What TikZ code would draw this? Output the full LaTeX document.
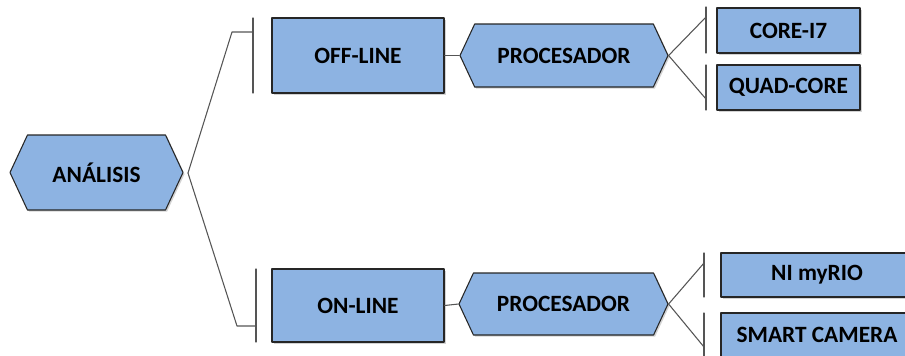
\documentclass[tikz,border=0pt]{standalone}
\usepackage{fontspec}
\setmainfont{Carlito}
\usepackage{xcolor}
\usetikzlibrary{shapes.symbols,shadows}
\definecolor{boxblue}{HTML}{8DB3E2}
\definecolor{linegray}{HTML}{555555}
\tikzset{
  box/.style={draw=black!85,line width=0.8pt,fill=boxblue,font=\bfseries\fontsize{17.5}{20}\selectfont,
    inner sep=0pt,drop shadow={shadow xshift=1.2pt,shadow yshift=-1.2pt,opacity=0.35}},
  hexa/.style={box,shape=signal,signal to=west and east,signal pointer angle=130},
  sz/.style 2 args={minimum width=#1*0.75pt,minimum height=#2*0.75pt},
  conn/.style={draw=linegray,line width=0.8pt}
}
\begin{document}
\begin{tikzpicture}[line cap=round,line join=round,x=0.75pt,y=-0.75pt]
\useasboundingbox (0,0) rectangle (905,355);
\clip (0,0) rectangle (905,355);
\node[hexa,sz={173}{75}] (ana) at (96.5,172.5) {ANÁLISIS};
\node[box,sz={172}{75}] (off) at (358,55.5) {OFF-LINE};
\node[box,sz={172}{73}] (on) at (358,305.5) {ON-LINE};
\node[hexa,sz={208}{63}] (procA) at (564,55.5) {PROCESADOR};
\node[hexa,sz={209}{62}] (procB) at (563.5,304) {PROCESADOR};
\node[box,sz={143}{45}] (i7) at (788.5,30.5) {CORE-I7};
\node[box,sz={143}{45}] (quad) at (788.5,87.5) {QUAD-CORE};
\node[box,sz={192}{44}] (myrio) at (817,275) {NI myRIO};
\node[box,sz={192}{44}] (smart) at (817,335) {SMART CAMERA};
% bracket from ANALISIS
\coordinate (apex) at (188,173);
\coordinate (barOff) at (253,32);
\coordinate (barOn) at (256,326);
\draw[conn] (apex) -- (232,32) -- (barOff);
\draw[conn] (253,18) -- (253,93);
\draw[conn] (apex) -- (237,326) -- (barOn);
\draw[conn] (256,269) -- (256,342);
% OFF-LINE branch
\draw[conn] (off.east) -- (procA.west);
\draw[conn] (procA.east) -- (706,17);
\draw[conn] (procA.east) -- (706,99);
\draw[conn] (706,7) -- (706,53);
\draw[conn] (706,65) -- (706,110);
% ON-LINE branch
\draw[conn] (on.east) -- (procB.west);
\draw[conn] (procB.east) -- (704,263);
\draw[conn] (procB.east) -- (704,347);
\draw[conn] (704,253) -- (704,297);
\draw[conn] (704,313) -- (704,357);
\end{tikzpicture}
\end{document}
